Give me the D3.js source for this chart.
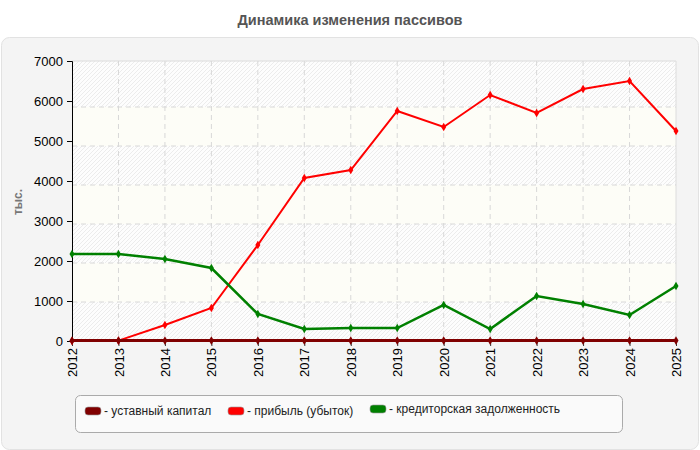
<!DOCTYPE html>
<html><head><meta charset="utf-8">
<script src="https://cdn.jsdelivr.net/npm/d3@7"></script>
<style>body{margin:0;background:#fff;font-family:"Liberation Sans",Arial,sans-serif}</style>
</head><body><svg id="c" width="700" height="450"></svg>
<script>
const years = [2012,2013,2014,2015,2016,2017,2018,2019,2020,2021,2022,2023,2024,2025];
const capital = [10,10,10,10,10,10,10,10,10,10,10,10,10,10];
const profit = [0,10,400,825,2400,4075,4275,5750,5350,6150,5700,6300,6500,5250];
const payables = [2175,2175,2050,1825,675,300,325,325,900,300,1125,925,650,1375];
const yTicks = [0,1000,2000,3000,4000,5000,6000,7000];
const seriesNames = ["- уставный капитал","- прибыль (убыток)","- кредиторская задолженность"];
const seriesColors = ["#800000","#ff0000","#008000"];

const svg = d3.select("#c");
const L=72,R=676,T=61,B=341;
const x = d3.scalePoint().domain(years).range([L,R]);
const y = d3.scaleLinear().domain([0,7000]).range([B,T]);
const gridY = d3.scaleLinear().domain([0,7]).range([B,B-7*39]);

const defs = svg.append("defs");
const pat = defs.append("pattern").attr("id","hatch").attr("patternUnits","userSpaceOnUse")
  .attr("width",4).attr("height",4);
pat.append("rect").attr("width",4).attr("height",4).attr("fill","#fdfdfd");
pat.append("path").attr("d","M-1,1 l2,-2 M0,4 l4,-4 M3,5 l2,-2").attr("stroke","#ececec").attr("stroke-width",1);

svg.append("text").attr("x",350).attr("y",25).attr("text-anchor","middle")
  .attr("font-size",14.5).attr("font-weight","bold").attr("fill","#555").text("Динамика изменения пассивов");

svg.append("rect").attr("x",1.5).attr("y",37.5).attr("width",697).attr("height",412)
  .attr("rx",8).attr("fill","#f4f4f4").attr("stroke","#e2e2e2");

// plot background
svg.append("rect").attr("x",L).attr("y",T).attr("width",R-L).attr("height",B-T).attr("fill","url(#hatch)");
for(let k=1;k<7;k+=2){
  svg.append("rect").attr("x",L).attr("y",gridY(k+1)).attr("width",R-L).attr("height",gridY(k)-gridY(k+1)).attr("fill","#fdfdf7");
}
svg.append("path").attr("d",`M${L},${T}H${R}V${B}`).attr("fill","none").attr("stroke","#dcdcdc");

// grid
const g = svg.append("g").attr("stroke","#d8d8d8").attr("stroke-dasharray","5,4");
years.slice(1,-1).forEach(v=>g.append("line").attr("x1",x(v)).attr("x2",x(v)).attr("y1",T).attr("y2",B));
d3.range(1,7).forEach(k=>g.append("line").attr("x1",L).attr("x2",R).attr("y1",gridY(k)).attr("y2",gridY(k)));

// axes
const ya = svg.append("g").attr("transform",`translate(${L},0)`)
  .call(d3.axisLeft(y).tickValues(yTicks).tickSize(5).tickPadding(4).tickFormat(d3.format("d")));
ya.select(".domain").attr("stroke","#000");
ya.selectAll("text").attr("font-size",13).attr("fill","#000").attr("font-family","Liberation Sans, Arial, sans-serif");
const xa = svg.append("g").attr("transform",`translate(0,${B})`)
  .call(d3.axisBottom(x).tickSize(5).tickFormat(d3.format("d")));
xa.select(".domain").remove();
xa.selectAll(".tick line").attr("stroke","#333");
xa.selectAll("text").attr("font-size",13).attr("fill","#000").attr("font-family","Liberation Sans, Arial, sans-serif")
  .attr("transform","rotate(-90)").attr("text-anchor","end").attr("dy","0.35em").attr("x",-7).attr("y",0);

svg.append("text").attr("transform","translate(22,202) rotate(-90)").attr("text-anchor","middle")
  .attr("font-size",12).attr("font-weight","bold").attr("fill","#777").text("тыс.");

// series
const series = [capital,profit,payables];
const widths = [3,2,2.5];
const line = d3.line().x((d,i)=>x(years[i])).y(d=>y(d));
[1,2,0].forEach(s=>{
  svg.append("path").datum(series[s]).attr("d",line).attr("fill","none")
    .attr("stroke",seriesColors[s]).attr("stroke-width",widths[s]);
  svg.append("g").selectAll("path").data(series[s]).join("path")
    .attr("transform",(d,i)=>`translate(${x(years[i])},${y(d)})`)
    .attr("d",d3.symbol(d3.symbolDiamond,22)).attr("fill",seriesColors[s]);
});

// legend
svg.append("rect").attr("x",75.5).attr("y",395.5).attr("width",547).attr("height",37).attr("rx",5)
  .attr("fill","#fafafa").attr("stroke","#aaa");
const lx=[85,228,370], ly=[411,411,409];
seriesNames.forEach((n,i)=>{
  svg.append("rect").attr("x",lx[i]).attr("y",ly[i]-4).attr("width",16).attr("height",8).attr("rx",3)
    .attr("fill",seriesColors[i]).attr("stroke","#999").attr("stroke-width",0.6);
  svg.append("text").attr("x",lx[i]+19).attr("y",ly[i]+4).attr("font-size",12).attr("fill","#222").text(n);
});
</script></body></html>
